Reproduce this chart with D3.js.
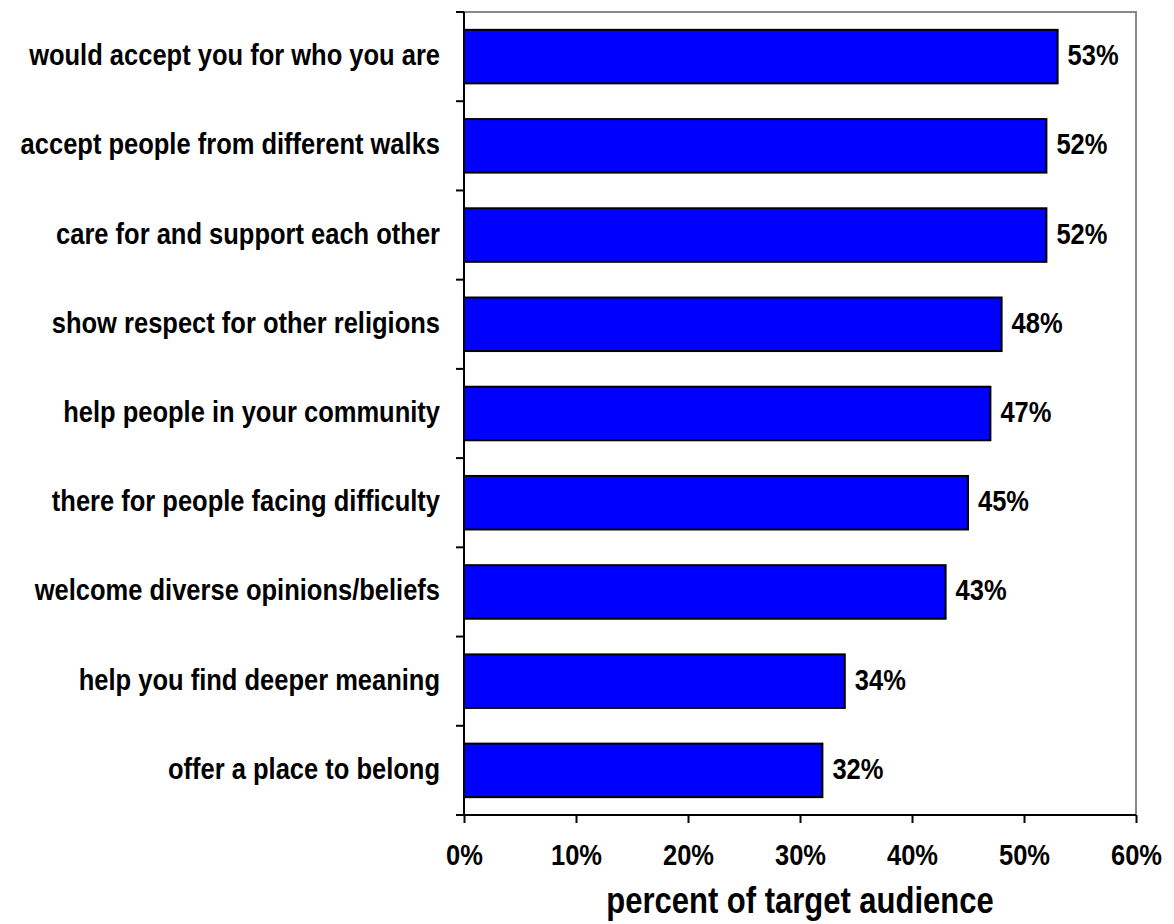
<!DOCTYPE html>
<html>
<head>
<meta charset="utf-8">
<script src="https://cdnjs.cloudflare.com/ajax/libs/d3/7.8.5/d3.min.js"></script>
<style>
  body { margin: 0; background: #fff; }
  text { font-family: "Liberation Sans", Arial, sans-serif; font-weight: bold; fill: #000; }
</style>
</head>
<body>
<script>
var categories = [
    "would accept you for who you are",
    "accept people from different walks",
    "care for and support each other",
    "show respect for other religions",
    "help people in your community",
    "there for people facing difficulty",
    "welcome diverse opinions/beliefs",
    "help you find deeper meaning",
    "offer a place to belong"
];
var values = [53, 52, 52, 48, 47, 45, 43, 34, 32];
var xTicks = [0, 10, 20, 30, 40, 50, 60];
var xTitle = "percent of target audience";

var margin = { top: 12, right: 38, bottom: 109, left: 464 },
    width = 1174 - margin.left - margin.right,
    height = 924 - margin.top - margin.bottom;

// the original text is a bit taller than it is wide
var stretch = 1.17;
function place(x, y) {
    return "translate(" + x + "," + y + ") scale(1," + stretch + ")";
}

var svg = d3.select("body").append("svg")
    .attr("width", 1174)
    .attr("height", 924);

var canvas = svg.append("g")
    .attr("transform", "translate(" + margin.left + "," + margin.top + ")");

var xScale = d3.scaleLinear()
    .domain([0, 60])
    .range([0, width]);

var yScale = d3.scaleBand()
    .domain(categories)
    .range([0, height])
    .paddingInner(0.4)
    .paddingOuter(0.2);

// grey frame top and right
canvas.append("path")
    .attr("d", "M0,0H" + width + "V" + height)
    .attr("fill", "none")
    .attr("stroke", "#888")
    .attr("stroke-width", 2);

// bars
canvas.selectAll(".bar")
    .data(values)
    .enter().append("rect")
    .attr("class", "bar")
    .attr("x", 0)
    .attr("y", function (d, i) { return yScale(categories[i]); })
    .attr("width", function (d) { return xScale(d); })
    .attr("height", yScale.bandwidth())
    .attr("fill", "#0000ff")
    .attr("stroke", "#000")
    .attr("stroke-width", 2);

// value labels
canvas.selectAll(".val")
    .data(values)
    .enter().append("text")
    .attr("class", "val")
    .attr("transform", function (d, i) {
        return place(xScale(d) + 10, yScale(categories[i]) + yScale.bandwidth() / 2 + 8.5);
    })
    .style("font-size", "25.5px")
    .text(function (d) { return d + "%"; });

// y axis: ticks between categories
var yTickPos = d3.range(categories.length + 1).map(function (i) { return i * height / categories.length; });
canvas.append("line")
    .attr("x1", 0).attr("x2", 0)
    .attr("y1", 0).attr("y2", height)
    .attr("stroke", "#000").attr("stroke-width", 2);
canvas.selectAll(".ytick")
    .data(yTickPos)
    .enter().append("line")
    .attr("class", "ytick")
    .attr("x1", -8).attr("x2", 0)
    .attr("y1", function (d) { return d; })
    .attr("y2", function (d) { return d; })
    .attr("stroke", "#000").attr("stroke-width", 2);

canvas.selectAll(".cat")
    .data(categories)
    .enter().append("text")
    .attr("class", "cat")
    .attr("transform", function (d) {
        return place(-24, yScale(d) + yScale.bandwidth() / 2 + 8.5);
    })
    .attr("text-anchor", "end")
    .style("font-size", "25.5px")
    .text(function (d) { return d; });

// x axis
var xAxis = d3.axisBottom(xScale)
    .tickValues(xTicks)
    .tickSize(8)
    .tickFormat(function (d) { return d + "%"; });

var gx = canvas.append("g")
    .attr("transform", "translate(0," + height + ")")
    .call(xAxis);
gx.select(".domain").attr("stroke-width", 2).attr("d", "M0,0H" + width);
gx.selectAll(".tick line").attr("stroke-width", 2);
gx.selectAll(".tick text")
    .attr("y", null)
    .attr("dy", null)
    .attr("transform", place(0, 50))
    .style("font-size", "25.5px")
    .style("font-family", "Liberation Sans, Arial, sans-serif")
    .style("font-weight", "bold");

canvas.append("text")
    .attr("transform", place(width / 2, height + 98))
    .attr("text-anchor", "middle")
    .style("font-size", "31px")
    .text(xTitle);
</script>
</body>
</html>
